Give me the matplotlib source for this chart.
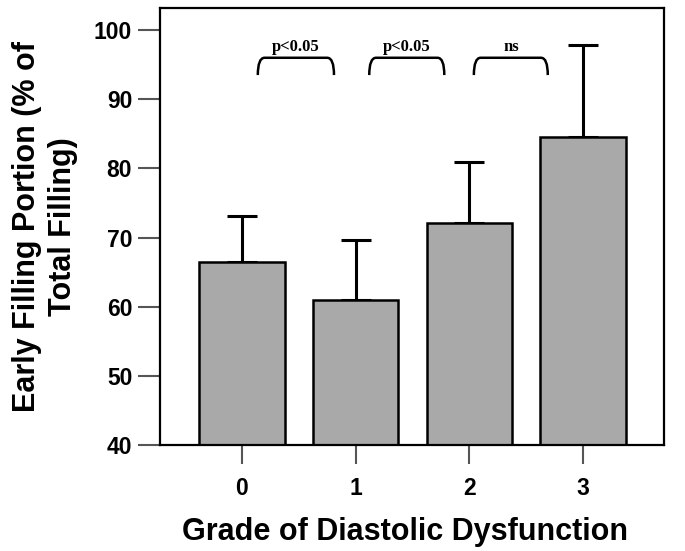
import numpy as np
import matplotlib
matplotlib.use("Agg")
import matplotlib.pyplot as plt
from matplotlib.path import Path
from matplotlib.patches import PathPatch

# data
grades = [0, 1, 2, 3]
means = [66.5, 61.0, 72.1, 84.6]
upper_err = [6.6, 8.6, 8.8, 13.2]

# significance brackets: (left, right, label)
br_left = [0.14, 1.12, 2.04]
br_right = [0.81, 1.78, 2.69]
br_labels = ["p<0.05", "p<0.05", "ns"]
br_top = 96.0
br_bottom = 93.5

plt.rcParams['font.family'] = ['Liberation Sans', 'DejaVu Sans']

fig = plt.figure(figsize=(6.85, 5.51), dpi=100)
ax = fig.add_axes([0.2336, 0.1924, 0.7354, 0.7931])

ax.bar(grades, means, width=0.75, color='#a9a9a9', edgecolor='black',
       linewidth=1.8, zorder=2)
ax.errorbar(grades, means, yerr=[np.zeros(len(means)), upper_err], fmt='none',
            ecolor='black', elinewidth=2.2, capsize=11, capthick=2.2, zorder=1)

# brackets with rounded ends
for x0, x1, lab in zip(br_left, br_right, br_labels):
    r = 0.06
    verts = [(x0, br_bottom), (x0, br_top), (x0 + r, br_top),
             (x1 - r, br_top), (x1, br_top), (x1, br_bottom)]
    codes = [Path.MOVETO, Path.CURVE3, Path.CURVE3,
             Path.LINETO, Path.CURVE3, Path.CURVE3]
    ax.add_patch(PathPatch(Path(verts, codes), fill=False, lw=1.8,
                           edgecolor='black'))
    ax.text((x0 + x1) / 2, br_top + 1.0, lab, ha='center', va='baseline',
            fontsize=12, fontweight='bold', family='Liberation Serif')

ax.set_xlim(-0.72, 3.71)
ax.set_ylim(40, 103.2)
ax.set_xticks(grades)
ax.set_yticks(range(40, 101, 10))
ax.tick_params(axis='both', direction='out', width=1.5,
               color='#555555', labelsize=16.5)
ax.tick_params(axis='y', length=16, pad=4)
ax.tick_params(axis='x', length=14, pad=9)
for lab in ax.get_xticklabels() + ax.get_yticklabels():
    lab.set_fontweight('bold')
for s in ax.spines.values():
    s.set_linewidth(1.6)

ax.set_xlabel('Grade of Diastolic Dysfunction', fontsize=22,
              fontweight='bold')
ax.xaxis.set_label_coords(0.487, -0.165)
ax.set_ylabel('Early Filling Portion (% of\nTotal Filling)', fontsize=22,
              fontweight='bold', linespacing=1.3)
ax.yaxis.set_label_coords(-0.162, 0.5)

fig.savefig('out.png', dpi=100)
